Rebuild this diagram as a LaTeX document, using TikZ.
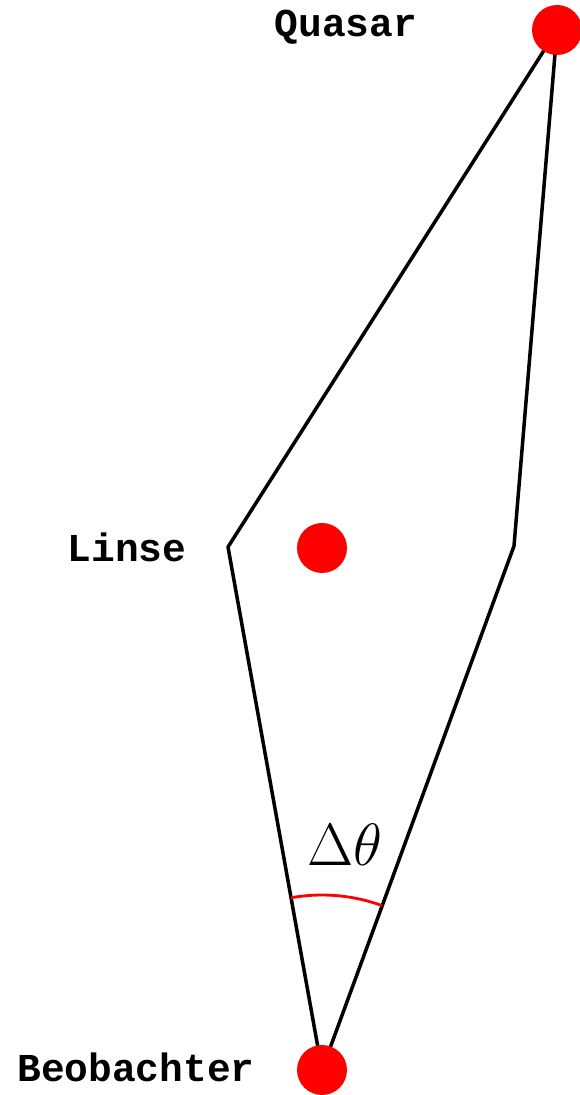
\RequirePackage{fix-cm}
\documentclass[tikz,border=0pt]{standalone}
\usepackage{fontspec}
\setmonofont{Liberation Mono}
\usetikzlibrary{backgrounds}
\definecolor{cred}{HTML}{FF0000}
\tikzset{
  every picture/.style={line width=1.7pt},
  dot/.style={circle, fill=cred, minimum size=1cm, inner sep=0pt},
  objname/.style={font=\ttfamily\bfseries\fontsize{22.5}{26}\selectfont, anchor=base, inner sep=0pt},
  ray/.style={draw=black, line width=2pt, line join=round},
  arcmark/.style={draw=cred, line width=1.6pt},
}
\begin{document}
\begin{tikzpicture}[x=0.02cm, y=0.02cm]
  \useasboundingbox (0,0) rectangle (579,1095);
  % the three bodies
  \node[dot] (quasar) at (557,1065) {};
  \node[dot] (linse) at (322,547) {};
  \node[dot] (beob) at (322,25) {};
  % bent light paths
  \coordinate (bendl) at (228,548);
  \coordinate (bendr) at (514,549);
  \begin{scope}[on background layer]
    \draw[ray] (quasar.center) -- (bendl) -- (beob.center);
    \draw[ray] (quasar.center) -- (bendr) -- (beob.center);
  \end{scope}
  \draw[arcmark] (beob.center) ++(100.2:175) arc (100.2:69.9:175);
  \node[font=\fontsize{34}{40}\selectfont] (dtheta) at (345,250) {$\Delta\theta$};
  % labels
  \node[objname] (lquasar) at (346,1058) {Quasar};
  \node[objname] (llinse) at (127,533) {Linse};
  \node[objname] (lbeob) at (136,13) {Beobachter};
\end{tikzpicture}
\end{document}
